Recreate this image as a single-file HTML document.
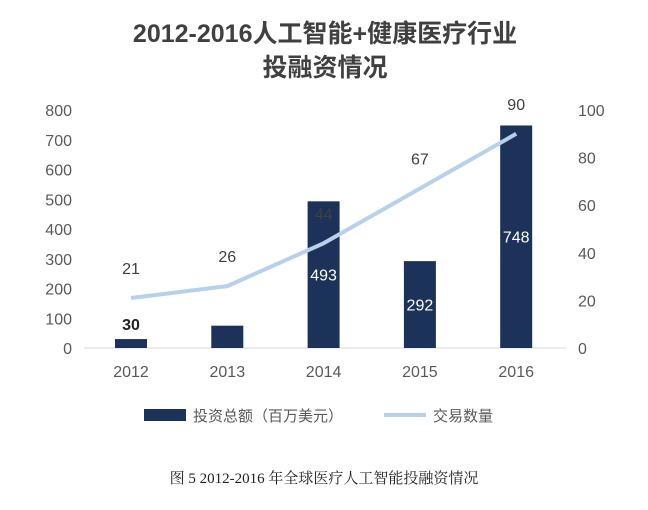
<!DOCTYPE html>
<html><head><meta charset="utf-8"><style>
body{margin:0;background:#fff;width:648px;height:505px;overflow:hidden}
svg text{font-family:"Liberation Sans","Noto Sans CJK SC",sans-serif}
</style></head><body>
<svg id="chart" width="648" height="505">
<text x="325" y="42" text-anchor="middle" font-size="25" font-weight="bold" fill="#404040">2012-2016人工智能+健康医疗行业</text>
<text x="325" y="76" text-anchor="middle" font-size="25" font-weight="bold" fill="#404040">投融资情况</text>
<g id="left-axis"></g><g id="right-axis"></g><g id="x-axis"></g><g id="bars"></g><g id="line"></g><g id="labels"></g>
<g>
<rect x="144" y="409" width="42" height="12" fill="#1c3259"/>
<text x="193" y="421" font-size="15" fill="#595959">投资总额（百万美元）</text>
<line x1="384" y1="415" x2="426" y2="415" stroke="#b8d0ea" stroke-width="4"/>
<text x="433" y="421" font-size="15" fill="#595959">交易数量</text>
</g>
<text x="324" y="483" text-anchor="middle" font-size="15" fill="#222" style="font-family:'Liberation Serif','Noto Serif CJK SC',serif">图 5 2012-2016 年全球医疗人工智能投融资情况</text>
</svg>
<script>
const categories=["2012","2013","2014","2015","2016"];
const investment=[30,75,493,292,748];
const deals=[21,26,44,67,90];
const leftTicks=[0,100,200,300,400,500,600,700,800];
const rightTicks=[0,20,40,60,80,100];
const NS="http://www.w3.org/2000/svg";
const y0=348,yTop=110;
const yL=v=>y0-(v/800)*(y0-yTop);
const yR=v=>y0-(v/100)*(y0-yTop);
const xC=i=>131+i*96.3;
function mk(tag,attrs,parent,txt){const e=document.createElementNS(NS,tag);for(const k in attrs)e.setAttribute(k,attrs[k]);if(txt!==undefined)e.textContent=txt;document.getElementById(parent).appendChild(e);return e;}
leftTicks.forEach(t=>{const e=mk("text",{x:72,y:yL(t)+6,"text-anchor":"end","font-size":16,fill:"#595959"},"left-axis",t);

});
rightTicks.forEach(t=>{const e=mk("text",{x:578,y:yR(t)+6,"font-size":16,fill:"#595959"},"right-axis",t);

});
const ax=mk("line",{x1:84,x2:566,y1:y0,y2:y0,stroke:"#d9d9d9"},"x-axis");


categories.forEach((c,i)=>{const e=mk("text",{x:xC(i),y:377,"text-anchor":"middle","font-size":16,fill:"#595959"},"x-axis",c);

});
investment.forEach((v,i)=>{const b=mk("rect",{x:xC(i)-16,y:yL(v),width:32,height:y0-yL(v),fill:"#1c3259"},"bars");


const small=(y0-yL(v))<30;
const ly=small?yL(v)-9:(yL(v)+y0)/2+6;
const t=mk("text",{x:xC(i),y:ly,"text-anchor":"middle","font-size":16,fill:small&&v<50?"#222":"#fff","font-weight":small&&v<50?"bold":"normal"},"labels",v);

});
const pts=deals.map((v,i)=>xC(i)+","+yR(v)).join(" ");
const pl=mk("polyline",{points:pts,fill:"none",stroke:"#b8d0ea","stroke-width":4,"stroke-linejoin":"round"},"line");


deals.forEach((v,i)=>{const t=mk("text",{x:xC(i),y:yR(v)-24,"text-anchor":"middle","font-size":16,fill:"#404040"},"labels",v);

});
</script>
</body></html>
